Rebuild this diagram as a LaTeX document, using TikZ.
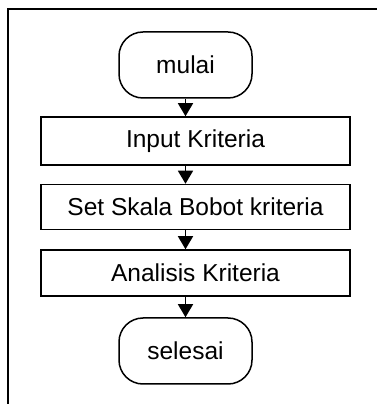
\documentclass[tikz,border=0pt]{standalone}
\usepackage{fontspec}
\setmainfont{Liberation Sans}
\usetikzlibrary{arrows.meta}
\begin{document}
\begin{tikzpicture}[x=1pt,y=1pt,
  term/.style={draw,line width=1.5pt,rounded corners=24pt,minimum width=133pt,minimum height=66pt,inner sep=0pt,font=\fontsize{24.5}{27}\selectfont},
  proc/.style={draw,line width=1.5pt,minimum width=309pt,inner sep=0pt,font=\fontsize{24.5}{27}\selectfont},
  flow/.style={line width=1.5pt,-{Triangle[width=15pt,length=13pt]}}]
\useasboundingbox (0,0) rectangle (377,404);
\draw[line width=2pt] (8,0) -- (8,395) -- (377,395);
\node[term] (start) at (185.5,339) {mulai};
\node[proc,minimum height=48pt] (b1) at (195.5,263) {Input Kriteria};
\node[proc,minimum height=45pt] (b2) at (195.5,197) {Set Skala Bobot kriteria};
\node[proc,minimum height=46pt] (b3) at (195.5,131) {Analisis Kriteria};
\node[term] (stop) at (185.5,53) {selesai};
\draw[flow] (start.south) -- (start.south |- b1.north);
\draw[flow] (start.south |- b1.south) -- (start.south |- b2.north);
\draw[flow] (start.south |- b2.south) -- (start.south |- b3.north);
\draw[flow] (start.south |- b3.south) -- (stop.north);
\end{tikzpicture}
\end{document}
